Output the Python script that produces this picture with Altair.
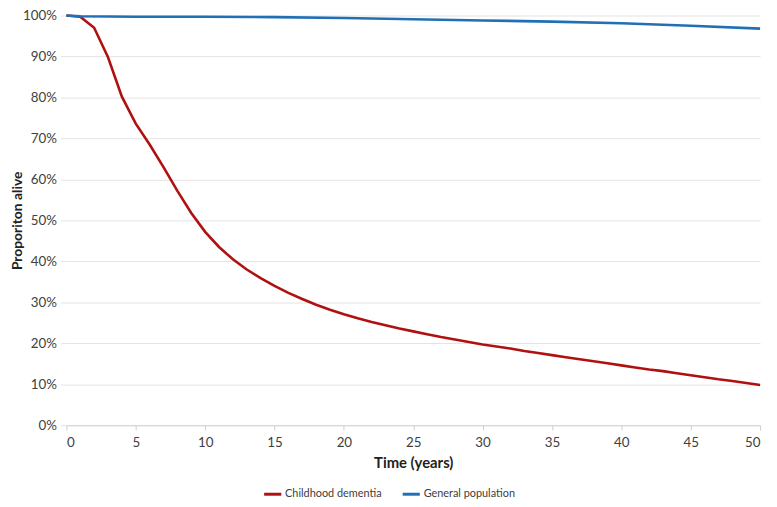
import altair as alt
import pandas as pd

years_red = list(range(0, 51))
childhood_dementia = [
    100, 99.7, 97.0, 89.8, 80.2, 73.6, 68.5, 63.0, 57.2, 51.8,
    47.2, 43.5, 40.5, 38.0, 35.9, 34.0, 32.3, 30.8, 29.4, 28.2,
    27.1, 26.1, 25.2, 24.4, 23.6, 22.9, 22.2, 21.5, 20.9, 20.3,
    19.7, 19.2, 18.7, 18.1, 17.6, 17.1, 16.6, 16.1, 15.6, 15.1,
    14.6, 14.1, 13.6, 13.2, 12.7, 12.2, 11.7, 11.2, 10.8, 10.3,
    9.8,
]
years_blue = [0, 1, 5, 10, 15, 20, 25, 30, 35, 40, 45, 50]
general_population = [100, 99.8, 99.7, 99.7, 99.6, 99.4, 99.1, 98.8, 98.5, 98.1, 97.5, 96.8]

series_names = ["Childhood dementia", "General population"]
series_colors = ["#B01010", "#2170B5"]

rows = []
for x, v in zip(years_red, childhood_dementia):
    rows.append({"year": x, "value": v / 100, "series": series_names[0]})
for x, v in zip(years_blue, general_population):
    rows.append({"year": x, "value": v / 100, "series": series_names[1]})
df = pd.DataFrame(rows)

FONT = "Lato"
H = 414

chart = alt.Chart(df).mark_line(strokeWidth=2.6).encode(
    x=alt.X("year:Q", title="Time (years)",
            scale=alt.Scale(domain=[0, 50], nice=False),
            axis=alt.Axis(values=list(range(0, 51, 5)), grid=False,
                          domain=True, domainColor="#d0d0d0", ticks=True,
                          tickColor="#d0d0d0", tickSize=5,
                          labelFontSize=13.5, labelColor="#404040", labelPadding=6,
                          titleFontSize=15, titleFontWeight="bold",
                          titleColor="#222222", titlePadding=6)),
    y=alt.Y("value:Q", title="Proporiton alive",
            scale=alt.Scale(domain=[0, 1], nice=False),
            axis=alt.Axis(values=[i / 10 for i in range(11)], format=".0%",
                          grid=True, gridColor="#e3e3e3", domain=False,
                          ticks=True, tickColor="#e3e3e3", tickSize=6,
                          labelFontSize=13.5, labelColor="#404040", labelPadding=4,
                          titleFontSize=14, titleFontWeight="bold",
                          titleColor="#222222",
                          titleX=-49, titleY=H / 2, titleAlign="center",
                          titleBaseline="middle", titleAngle=270)),
    color=alt.Color("series:N", title=None,
                    scale=alt.Scale(domain=series_names, range=series_colors),
                    legend=alt.Legend(orient="none", direction="horizontal",
                                      legendX=198, legendY=473,
                                      symbolType="stroke", symbolStrokeWidth=3,
                                      symbolSize=300, labelFontSize=11,
                                      labelColor="#404040", columnPadding=14,
                                      labelOffset=2)),
).properties(
    width=701,
    height=H,
    autosize=alt.AutoSizeParams(type="none"),
    padding={"left": 59, "top": 5, "right": 9, "bottom": 72},
).configure(font=FONT).configure_view(stroke=None)

chart.save("out.html", embed_options={"renderer": "svg", "actions": False})
